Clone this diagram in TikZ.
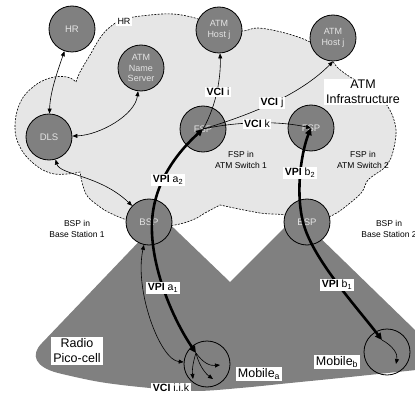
\documentclass[tikz,border=0pt]{standalone}
\usepackage{fontspec}
\setmainfont{Liberation Sans}
\usetikzlibrary{arrows.meta}
\definecolor{circ}{HTML}{808080}
\definecolor{cloudc}{HTML}{E6E6E6}
\definecolor{ctext}{HTML}{E4E4E4}
\begin{document}
\begin{tikzpicture}[x=1pt,y=-1pt,
  stn/.style={circle, draw=black, line width=0.8pt, fill=circ, minimum size=46pt, inner sep=0pt, text=ctext, font=\fontsize{9.5}{10.5}\selectfont, align=center},
  stn2/.style={stn, font=\fontsize{9}{10.5}\selectfont},
  mob/.style={circle, draw=black, line width=0.8pt, minimum size=46pt, inner sep=0pt},
  lbl/.style={fill=white, inner xsep=1.5pt, inner ysep=1.5pt, font=\fontsize{10.5}{12}\selectfont},
  biglbl/.style={fill=white, inner xsep=2pt, inner ysep=1.5pt, font=\fontsize{12.5}{15}\selectfont, align=center},
  smalltxt/.style={font=\fontsize{8.5}{11}\selectfont, align=center},
  conn/.style={line width=0.6pt, -{Triangle[length=5pt,width=4pt]}},
  conntwo/.style={line width=0.6pt, {Triangle[length=5pt,width=4pt]}-{Triangle[length=5pt,width=4pt]}},
  fatarr/.style={line width=2.6pt, {Triangle[length=7pt,width=6.5pt]}-{Triangle[length=7pt,width=6.5pt]}},
  clouddash/.style={draw=black, line width=0.6pt, dash pattern=on 2pt off 1.3pt}]
\useasboundingbox (0,0) rectangle (415,393);
\fill[white] (0,0) rectangle (415,393);

% cloud
\path[fill=cloudc, clouddash]
 plot[smooth, tension=0.6] coordinates {(76,82) (80,72) (90,55) (100,38) (110,27) (124,19) (150,15) (173,14) (195,18) (219,27) (242,31) (258,28) (285,33) (310,42) (328,55) (338,68) (355,80) (375,90) (388,107) (394,120) (396,135) (391,158) (382,170)}
 -- plot[smooth, tension=0.6] coordinates {(382,170) (368,180) (362,192) (350,203) (333,215) (310,222) (285,215) (260,213) (220,205)}
 -- plot[smooth, tension=0.6] coordinates {(220,205) (205,213) (197,218) (180,224) (160,226) (140,222) (127,220) (110,213) (100,207) (88,197) (83,186) (80,172)}
 -- plot[smooth, tension=0.7] coordinates {(80,172) (67,174) (50,173) (33,163) (20,147) (15,127) (20,103) (33,87) (50,78) (67,77) (76,82)}
 -- cycle;

% radio cones
\fill[circ] (150,230) -- (42,343) .. controls (30,355) and (35,367) .. (58,373)
  -- plot[smooth, tension=0.6] coordinates {(58,373) (100,382) (150,388) (195,391) (240,388) (290,383) (340,378) (416,370)}
  -- (416,331) -- (310,228) -- (300,212) -- (230,282) -- (155,210) -- cycle;

% plain texts
\node[smalltxt] (t1) at (241,160) {FSP in\\ATM Switch 1};
\node[smalltxt] (t2) at (363,160) {FSP in\\ATM Switch 2};
\node[smalltxt] (t3) at (77,229) {BSP in\\Base Station 1};
\node[smalltxt] (t4) at (389,229) {BSP in\\Base Station 2};

% stations
\node[stn] (HR) at (72,29) {HR};
\node[stn2] (NS) at (141,68) {ATM\\Name\\Server};
\node[stn] (DLS) at (49,137) {DLS};
\node[stn2] (HL) at (219,30) {ATM\\Host j};
\node[stn2] (HRt) at (333,38) {ATM\\Host j};
\node[stn] (F1) at (203,129) {FSP};
\node[stn] (F2) at (311,128) {FSP};
\node[stn] (B1) at (149,222) {BSP};
\node[stn] (B2) at (307,222) {BSP};
\node[mob] (MA) at (207,364) {};
\node[mob] (MB) at (387,352) {};

\coordinate (ma) at (196,353);
\coordinate (ba) at (152,222);
\coordinate (mb) at (382,340);
\coordinate (bb) at (303,222);
\coordinate (fa1) at (220,365);
\coordinate (fa2) at (213,379);
\coordinate (fa3) at (193,379);
\coordinate (fb) at (396,364);

% thin connectors
\draw[conntwo] (HR) .. controls (58,70) and (50,92) .. (DLS);
\draw[conntwo] (NS) .. controls (135,115) and (100,135) .. (DLS);
\draw[conntwo] (DLS) .. controls (60,175) and (100,175) .. (B1);
\draw[conntwo] (B1) .. controls (134,290) and (160,360) .. (MA);
\draw[conn] (F1.center) .. controls (217,105) and (221,75) .. (HL);
\draw[conn] (F1.center) .. controls (250,115) and (300,95) .. (HRt.south);
\draw[conn] (F1.center) .. controls (240,121) and (280,121) .. (F2.center);
\draw[conn] (ma) .. controls (203,363) and (210,366) .. (fa1);
\draw[conn] (ma) .. controls (199,366) and (206,374) .. (fa2);
\draw[conn] (ma) .. controls (193,362) and (192,370) .. (fa3);
\draw[conn] (mb) .. controls (393,346) and (398,354) .. (fb);

% thick VPI paths
\draw[fatarr] (ma) .. controls (172,318) and (150,265) .. (ba) .. controls (154,180) and (180,150) .. (F1.center);
\draw[fatarr] (mb) .. controls (355,305) and (312,258) .. (bb) .. controls (295,190) and (302,150) .. (F2.center);

% labels with white background
\node[lbl, font=\fontsize{9}{10}\selectfont] (hrl) at (124,21) {HR};
\node[lbl] (vi) at (218,92) {\textbf{VCI} i};
\node[lbl] (vj) at (272,103) {\textbf{VCI} j};
\node[lbl] (vk) at (257,124) {\textbf{VCI} k};
\node[biglbl] (atm) at (363,92) {ATM\\Infrastructure};
\node[lbl] (va2) at (168,180) {\textbf{VPI} a\textsubscript{2}};
\node[lbl] (vb2) at (300,173) {\textbf{VPI} b\textsubscript{2}};
\node[lbl] (va1) at (163,288) {\textbf{VPI} a\textsubscript{1}};
\node[lbl] (vb1) at (337,285) {\textbf{VPI} b\textsubscript{1}};
\node[biglbl] (radio) at (77,351) {Radio\\Pico-cell};
\node[lbl, inner ysep=1pt] (viik) at (171,388) {\textbf{VCI} i.i.k};
\node[biglbl] (mal) at (259,374) {Mobile\textsubscript{a}};
\node[biglbl] (mbl) at (337,362) {Mobile\textsubscript{b}};
\end{tikzpicture}
\end{document}
